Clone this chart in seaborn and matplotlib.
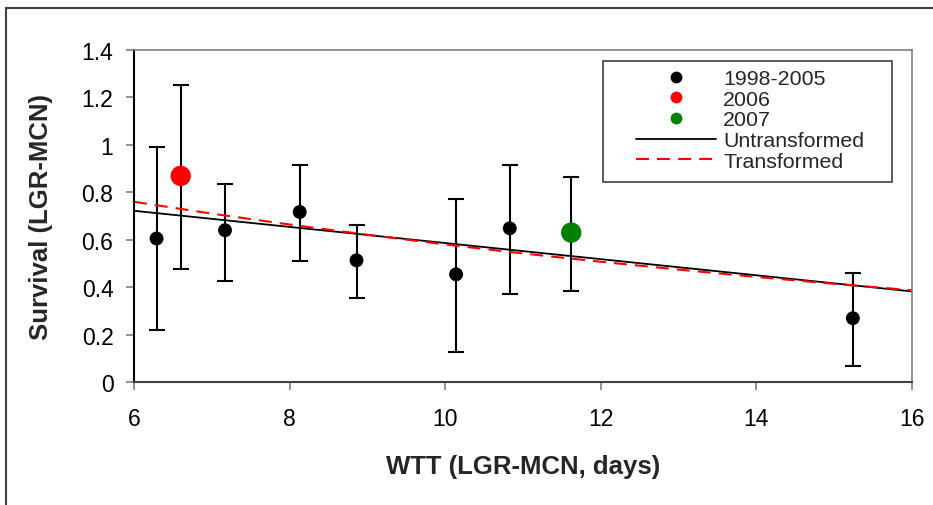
import matplotlib
matplotlib.use("Agg")
import matplotlib.pyplot as plt
import seaborn as sns
import pandas as pd
from matplotlib.lines import Line2D
from matplotlib.patches import Rectangle

# points
wtt = [6.29, 6.60, 7.17, 8.13, 8.86, 10.14, 10.83, 11.62, 15.24]
survival = [0.605, 0.869, 0.640, 0.717, 0.513, 0.454, 0.648, 0.630, 0.269]
err_low = [0.221, 0.475, 0.424, 0.509, 0.356, 0.128, 0.373, 0.382, 0.069]
err_high = [0.990, 1.252, 0.837, 0.913, 0.661, 0.771, 0.913, 0.863, 0.458]
period = ["1998-2005", "2006", "1998-2005", "1998-2005", "1998-2005",
          "1998-2005", "1998-2005", "2007", "1998-2005"]

# fitted lines
fit_x = [6, 16]
fit_untrans = [0.722, 0.382]
trans_x = [6, 7, 8, 9, 10, 11, 12, 13, 14, 15, 16]
trans_y = [0.760, 0.710, 0.664, 0.621, 0.580, 0.542, 0.507, 0.474, 0.443, 0.414, 0.387]

colors = {"1998-2005": "black", "2006": "#ff0000", "2007": "#008000"}
sizes = {"1998-2005": 100, "2006": 215, "2007": 215}

df = pd.DataFrame({"wtt": wtt, "survival": survival, "lo": err_low,
                   "hi": err_high, "period": period})

sns.set_theme(style="white")
plt.rcParams["font.family"] = ["Liberation Sans", "DejaVu Sans"]

fig = plt.figure(figsize=(9.33, 5.06), dpi=100)
ax = fig.add_axes([134 / 933, 1 - 383 / 506, 778 / 933, 332 / 506])

ax.errorbar(df["wtt"], df["survival"],
            yerr=[df["survival"] - df["lo"], df["hi"] - df["survival"]],
            fmt="none", ecolor="black", elinewidth=1.5, capsize=5.5,
            capthick=1.5, zorder=1)

sns.lineplot(x=fit_x, y=fit_untrans, color="black", linewidth=1.3,
             ax=ax, zorder=2)
sns.lineplot(x=trans_x, y=trans_y, color="#ff0000", linewidth=1.5,
             dashes=False, ax=ax, zorder=2.5, linestyle=(0, (6.2, 3.9)))

sns.scatterplot(data=df, x="wtt", y="survival", hue="period", size="period",
                palette=colors, sizes=sizes, linewidth=0, legend=False,
                ax=ax, zorder=3)

ax.set_xlim(6, 16)
ax.set_ylim(0, 1.4)
ax.set_xticks([6, 8, 10, 12, 14, 16])
ax.set_yticks([0, 0.2, 0.4, 0.6, 0.8, 1, 1.2, 1.4])
ax.set_yticklabels(["0", "0.2", "0.4", "0.6", "0.8", "1", "1.2", "1.4"])
ax.tick_params(axis="both", labelsize=16.5, length=5.8, width=1.2,
               color="#808080", direction="out", labelcolor="black")
ax.tick_params(axis="y", pad=9, left=True)
ax.tick_params(axis="x", pad=12, bottom=True)

for side in ["top", "right"]:
    ax.spines[side].set_color("#808080")
    ax.spines[side].set_linewidth(1.2)
ax.spines["left"].set_color("black")
ax.spines["left"].set_linewidth(1.5)
ax.spines["bottom"].set_color("#404040")
ax.spines["bottom"].set_linewidth(1.5)

ax.set_xlabel("WTT (LGR-MCN, days)", fontsize=18.5, fontweight="bold")
ax.set_ylabel("Survival (LGR-MCN)", fontsize=18.5, fontweight="bold")
ax.xaxis.set_label_coords(0.5, -0.218)
ax.yaxis.set_label_coords(-0.104, 0.5)

# legend
handles = [
    Line2D([], [], linestyle="none", marker="o", markersize=8.5,
           markerfacecolor="black", markeredgewidth=0),
    Line2D([], [], linestyle="none", marker="o", markersize=8.5,
           markerfacecolor="#ff0000", markeredgewidth=0),
    Line2D([], [], linestyle="none", marker="o", markersize=8.5,
           markerfacecolor="#008000", markeredgewidth=0),
    Line2D([], [], color="black", linewidth=1.3),
    Line2D([], [], color="#ff0000", linewidth=1.5, linestyle=(0, (6.2, 3.9))),
]
labels = ["1998-2005", "2006", "2007", "Untransformed", "Transformed"]
leg = ax.legend(handles, labels, loc="upper left", frameon=False,
                bbox_to_anchor=((636 - 134) / 778, (383 - 70) / 332),
                borderpad=0, borderaxespad=0, fontsize=15.4,
                handlelength=3.75, handletextpad=0.33, labelspacing=0.08)
ax.add_patch(Rectangle(((603 - 134) / 778, (383 - 183) / 332), 289 / 778,
                       121 / 332, transform=ax.transAxes, fill=False,
                       edgecolor="#404040", linewidth=1.2, zorder=4))

# chart frame
fig.add_artist(Line2D([6 / 933, 6 / 933], [0, 1 - 9 / 506], color="#404040",
                      linewidth=1.5))
fig.add_artist(Line2D([6 / 933, 1], [1 - 9 / 506, 1 - 9 / 506],
                      color="#404040", linewidth=1.5))

fig.savefig("out.png", dpi=100)
